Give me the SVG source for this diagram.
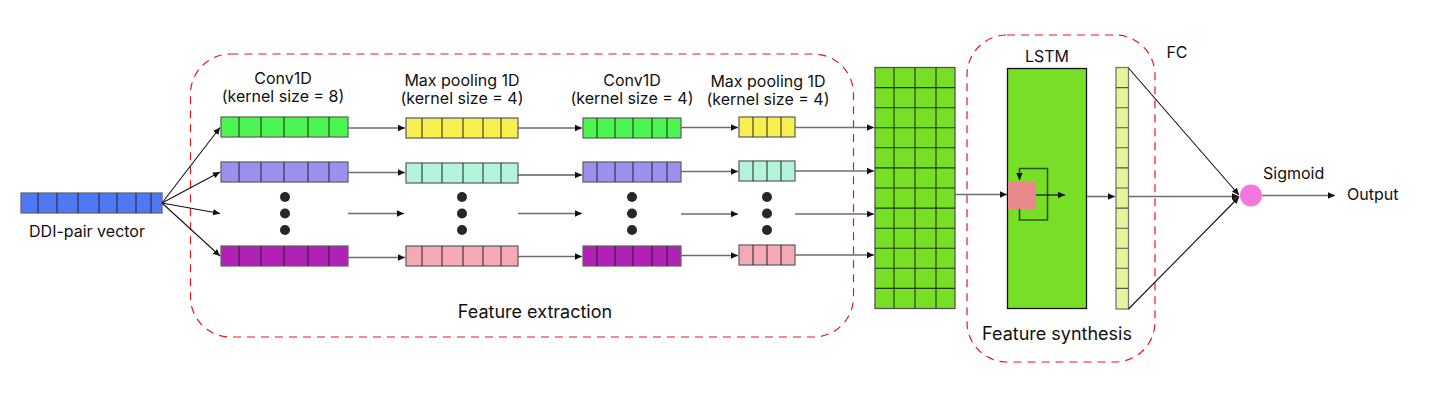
<svg xmlns="http://www.w3.org/2000/svg" width="1440" height="400" viewBox="0 0 1440 400">
<defs>
<marker id="ah" markerUnits="userSpaceOnUse" markerWidth="8" markerHeight="8" refX="7" refY="4" orient="auto">
<path d="M0,0.8 L7,4 L0,7.2 Z" fill="#111"/>
</marker>
<style>
text{font-family:Inter,"Liberation Sans",sans-serif;fill:#111;}
.t14{font-size:16px;text-anchor:middle;}
.t16{font-size:18px;text-anchor:middle;}
.bar{stroke:#666;stroke-width:1.3;}
.div{stroke:#222;stroke-width:1;}
.con{stroke:#6e6e6e;stroke-width:1.6;fill:none;}
.conb{stroke:#111;stroke-width:1.1;fill:none;}
.dash{fill:none;stroke:#e8161a;stroke-width:1.2;stroke-dasharray:8 6;}
.dot{fill:#2a2626;}
.g1{fill:#4df553;} .lav{fill:#9a90ee;} .pur{fill:#b020b5;}
.yel{fill:#f7f050;} .mint{fill:#b2f5da;} .pink{fill:#f4a9b5;}
</style>
</defs>
<rect width="1440" height="400" fill="#fff"/>

<g id="feature-extraction">
<rect class="dash" x="190.5" y="54" width="663" height="283" rx="40"/>
<text class="t16" x="535" y="318">Feature extraction</text>
</g>
<g id="feature-synthesis">
<rect class="dash" x="967" y="35" width="188" height="327" rx="40"/>
<text class="t16" x="1057" y="340">Feature synthesis</text>
</g>

<g id="ddi-vector">
<rect class="bar" x="21" y="193" width="141" height="20" fill="#4f78f7"/>
<path class="div" d="M38,193v20M57,193v20M78,193v20M99,193v20M117,193v20M136,193v20M151,193v20"/>
<text class="t14" x="87" y="237">DDI-pair vector</text>
</g>

<g id="conv1">
<text class="t14" x="283" y="83.5">Conv1D</text>
<text class="t14" x="283" y="101.5">(kernel size = 8)</text>
<rect class="bar g1" x="221" y="117" width="127" height="20"/>
<path class="div" d="M239,117v20M261,117v20M284,117v20M308,117v20M329,117v20"/>
<rect class="bar lav" x="221" y="162" width="127" height="20"/>
<path class="div" d="M239,162v20M261,162v20M284,162v20M308,162v20M329,162v20"/>
<circle class="dot" cx="285" cy="197" r="5"/><circle class="dot" cx="285" cy="213.5" r="5"/><circle class="dot" cx="285" cy="230" r="5"/>
<rect class="bar pur" x="221" y="246" width="127" height="20"/>
<path class="div" d="M239,246v20M261,246v20M284,246v20M308,246v20M329,246v20"/>
</g>

<g id="maxpool1">
<text class="t14" x="462" y="85.5">Max pooling 1D</text>
<text class="t14" x="462" y="103.5">(kernel size = 4)</text>
<rect class="bar yel" x="406" y="118" width="112" height="20"/>
<path class="div" d="M422,118v20M442,118v20M463,118v20M483,118v20M501,118v20"/>
<rect class="bar mint" x="406" y="163" width="112" height="20"/>
<path class="div" d="M422,163v20M442,163v20M463,163v20M483,163v20M501,163v20"/>
<circle class="dot" cx="462" cy="197" r="5"/><circle class="dot" cx="462" cy="213.5" r="5"/><circle class="dot" cx="462" cy="230" r="5"/>
<rect class="bar pink" x="406" y="246" width="112" height="20"/>
<path class="div" d="M422,246v20M442,246v20M463,246v20M483,246v20M501,246v20"/>
</g>

<g id="conv2">
<text class="t14" x="632" y="85.5">Conv1D</text>
<text class="t14" x="632" y="103.5">(kernel size = 4)</text>
<rect class="bar g1" x="583" y="118" width="98" height="20"/>
<path class="div" d="M597,118v20M615,118v20M633,118v20M652,118v20M667,118v20"/>
<rect class="bar lav" x="583" y="162" width="98" height="20"/>
<path class="div" d="M597,162v20M615,162v20M633,162v20M652,162v20M667,162v20"/>
<circle class="dot" cx="632" cy="197" r="5"/><circle class="dot" cx="632" cy="213.5" r="5"/><circle class="dot" cx="632" cy="230" r="5"/>
<rect class="bar pur" x="583" y="246" width="98" height="20"/>
<path class="div" d="M597,246v20M615,246v20M633,246v20M652,246v20M667,246v20"/>
</g>

<g id="maxpool2">
<text class="t14" x="768" y="87">Max pooling 1D</text>
<text class="t14" x="768" y="105">(kernel size = 4)</text>
<rect class="bar yel" x="739" y="117" width="56" height="20"/>
<path class="div" d="M753,117v20M767,117v20M781,117v20"/>
<rect class="bar mint" x="739" y="161" width="56" height="20"/>
<path class="div" d="M753,161v20M767,161v20M781,161v20"/>
<circle class="dot" cx="767" cy="197" r="5"/><circle class="dot" cx="767" cy="213.5" r="5"/><circle class="dot" cx="767" cy="230" r="5"/>
<rect class="bar pink" x="739" y="245" width="56" height="20"/>
<path class="div" d="M753,245v20M767,245v20M781,245v20"/>
</g>

<g id="concat-grid">
<rect x="875" y="67.5" width="80" height="241" fill="#77df26" stroke="#555" stroke-width="1.3"/>
<path stroke="#1e3a0a" stroke-width="1.1" d="M894,67.5v241M915,67.5v241M936,67.5v241M875,87.6h80M875,107.7h80M875,127.8h80M875,147.8h80M875,167.9h80M875,188h80M875,208.1h80M875,228.2h80M875,248.3h80M875,268.3h80M875,288.4h80"/>
</g>

<g id="lstm">
<text class="t14" x="1047" y="62">LSTM</text>
<rect x="1007.5" y="68.5" width="79" height="240" fill="#77df26" stroke="#111" stroke-width="1.3"/>
<rect x="1008" y="181.5" width="28" height="27.5" fill="#e8888a"/>
<path d="M1019.5,209V220H1047.5V168.5H1019.5V180" fill="none" stroke="#2f5514" stroke-width="1.6" marker-end="url(#ah)"/>
<line x1="1036" y1="195" x2="1065" y2="195" stroke="#111" stroke-width="1.2" marker-end="url(#ah)"/>
</g>

<g id="fc">
<text class="t14" x="1177" y="58">FC</text>
<rect x="1116" y="67.5" width="12.5" height="241.5" fill="#e6f59a" stroke="#777" stroke-width="1.3"/>
<path stroke="#555" stroke-width="1.1" d="M1116,87.6h12.5M1116,107.7h12.5M1116,127.8h12.5M1116,147.8h12.5M1116,167.9h12.5M1116,188h12.5M1116,208.1h12.5M1116,228.2h12.5M1116,248.3h12.5M1116,268.3h12.5M1116,288.4h12.5"/>
</g>

<g id="sigmoid">
<circle cx="1251" cy="195.5" r="11" fill="#f576e0"/>
<text x="1263" y="179" font-size="16">Sigmoid</text>
</g>

<g id="output">
<text x="1347" y="199.5" font-size="16">Output</text>
</g>

<g id="connectors">
<line class="conb" x1="162" y1="203" x2="220" y2="127.5" marker-end="url(#ah)"/>
<line class="conb" x1="162" y1="203" x2="220" y2="172" marker-end="url(#ah)"/>
<line class="conb" x1="162" y1="203" x2="220" y2="213.5" marker-end="url(#ah)"/>
<line class="conb" x1="162" y1="203" x2="220" y2="256" marker-end="url(#ah)"/>

<line class="con" x1="348" y1="128" x2="405" y2="128" marker-end="url(#ah)"/>
<line class="con" x1="348" y1="172.5" x2="405" y2="172.5" marker-end="url(#ah)"/>
<line class="con" x1="348" y1="213.5" x2="404" y2="213.5" marker-end="url(#ah)"/>
<line class="con" x1="348" y1="257.5" x2="405" y2="257.5" marker-end="url(#ah)"/>

<line class="con" x1="518" y1="128" x2="582" y2="128" marker-end="url(#ah)"/>
<line class="conb" x1="518" y1="175" x2="582" y2="175" marker-end="url(#ah)"/>
<line class="con" x1="518" y1="213.5" x2="582" y2="213.5" marker-end="url(#ah)"/>
<line class="con" x1="518" y1="256.5" x2="582" y2="256.5" marker-end="url(#ah)"/>

<line class="con" x1="681" y1="127.5" x2="738" y2="127.5" marker-end="url(#ah)"/>
<line class="con" x1="681" y1="171.5" x2="738" y2="171.5" marker-end="url(#ah)"/>
<line class="con" x1="681" y1="214" x2="738" y2="214" marker-end="url(#ah)"/>
<line class="con" x1="681" y1="255.5" x2="738" y2="255.5" marker-end="url(#ah)"/>

<line class="con" x1="795" y1="127.5" x2="874" y2="127.5" marker-end="url(#ah)"/>
<line class="con" x1="795" y1="171" x2="874" y2="171" marker-end="url(#ah)"/>
<line class="con" x1="795" y1="214" x2="874" y2="214" marker-end="url(#ah)"/>
<line class="con" x1="795" y1="255" x2="874" y2="255" marker-end="url(#ah)"/>

<line class="con" x1="955" y1="194.5" x2="1007" y2="194.5" marker-end="url(#ah)"/>
<line class="con" x1="1087" y1="196.5" x2="1115" y2="196.5" marker-end="url(#ah)"/>

<line class="conb" x1="1128.5" y1="68" x2="1239" y2="195" marker-end="url(#ah)"/>
<line class="con" x1="1128.5" y1="196.5" x2="1239" y2="196.5" marker-end="url(#ah)"/>
<line class="conb" x1="1128.5" y1="309" x2="1239" y2="197" marker-end="url(#ah)"/>

<line class="con" x1="1262" y1="195.5" x2="1335" y2="195.5" marker-end="url(#ah)"/>
</g>
</svg>
